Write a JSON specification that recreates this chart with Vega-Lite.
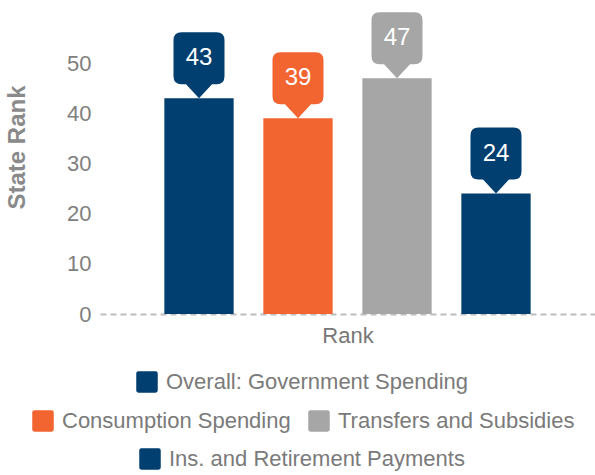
{
  "$schema": "https://vega.github.io/schema/vega-lite/v6.json",
  "autosize": {"type": "none"},
  "padding": {"left": 100, "top": 13, "right": 0, "bottom": 161},
  "width": 495,
  "height": 301,
  "config": {
    "font": "Liberation Sans",
    "view": {"stroke": null}
  },
  "data": {
    "values": [
      {"category": "Overall: Government Spending", "rank": 43},
      {"category": "Consumption Spending", "rank": 39},
      {"category": "Transfers and Subsidies", "rank": 47},
      {"category": "Ins. and Retirement Payments", "rank": 24}
    ]
  },
  "encoding": {
    "x": {
      "field": "category",
      "type": "nominal",
      "scale": {
        "domain": ["Overall: Government Spending", "Consumption Spending", "Transfers and Subsidies", "Ins. and Retirement Payments"],
        "paddingInner": 0.3,
        "paddingOuter": 0.65
      },
      "axis": {
        "title": "Rank",
        "labels": false,
        "ticks": false,
        "domainDash": [6, 4],
        "domainColor": "#bdbdbd",
        "domainWidth": 2,
        "titleFontSize": 22,
        "titleFontWeight": "normal",
        "titleColor": "#777777",
        "titlePadding": 11
      }
    },
    "y": {
      "field": "rank",
      "type": "quantitative",
      "scale": {"domain": [0, 60], "nice": false},
      "axis": {
        "title": "State Rank",
        "values": [0, 10, 20, 30, 40, 50],
        "grid": false,
        "domain": false,
        "ticks": false,
        "labelFontSize": 22,
        "labelColor": "#808080",
        "labelPadding": 9,
        "titleFontSize": 24,
        "titleFontWeight": "bold",
        "titleColor": "#8a8a8a",
        "titleX": -71,
        "titleY": 134
      }
    }
  },
  "layer": [
    {
      "transform": [{"filter": "datum.category === 'Overall: Government Spending'"}],
      "mark": {"type": "bar"},
      "encoding": {
        "fill": {
          "field": "category",
          "type": "nominal",
          "scale": {"domain": ["Overall: Government Spending"], "range": ["#003f6f"]},
          "legend": {
            "title": null,
            "orient": "none",
            "legendX": 36,
            "legendY": 358,
            "padding": 0,
            "symbolType": "M -0.8 -1 H 0.8 Q 1 -1 1 -0.8 V 0.8 Q 1 1 0.8 1 H -0.8 Q -1 1 -1 0.8 V -0.8 Q -1 -1 -0.8 -1 Z",
            "symbolSize": 462,
            "symbolStrokeWidth": 0,
            "labelFontSize": 22,
            "labelColor": "#7a7a7a",
            "labelOffset": 8,
            "labelLimit": 400
          }
        }
      }
    },
    {
      "transform": [{"filter": "datum.category === 'Consumption Spending' || datum.category === 'Transfers and Subsidies'"}],
      "mark": {"type": "bar"},
      "encoding": {
        "fill": {
          "field": "category",
          "type": "nominal",
          "scale": {"domain": ["Consumption Spending", "Transfers and Subsidies"], "range": ["#f26430", "#a6a6a6"]},
          "legend": {
            "title": null,
            "orient": "none",
            "direction": "horizontal",
            "legendX": -68,
            "legendY": 397,
            "padding": 0,
            "columnPadding": 17,
            "symbolType": "M -0.8 -1 H 0.8 Q 1 -1 1 -0.8 V 0.8 Q 1 1 0.8 1 H -0.8 Q -1 1 -1 0.8 V -0.8 Q -1 -1 -0.8 -1 Z",
            "symbolSize": 462,
            "symbolStrokeWidth": 0,
            "labelFontSize": 22,
            "labelColor": "#7a7a7a",
            "labelOffset": 8,
            "labelLimit": 400
          }
        }
      }
    },
    {
      "transform": [{"filter": "datum.category === 'Ins. and Retirement Payments'"}],
      "mark": {"type": "bar"},
      "encoding": {
        "fill": {
          "field": "category",
          "type": "nominal",
          "scale": {"domain": ["Ins. and Retirement Payments"], "range": ["#003f6f"]},
          "legend": {
            "title": null,
            "orient": "none",
            "legendX": 39,
            "legendY": 435,
            "padding": 0,
            "symbolType": "M -0.8 -1 H 0.8 Q 1 -1 1 -0.8 V 0.8 Q 1 1 0.8 1 H -0.8 Q -1 1 -1 0.8 V -0.8 Q -1 -1 -0.8 -1 Z",
            "symbolSize": 462,
            "symbolStrokeWidth": 0,
            "labelFontSize": 22,
            "labelColor": "#7a7a7a",
            "labelOffset": 8,
            "labelLimit": 400
          }
        }
      }
    },
    {
      "mark": {
        "type": "point",
        "filled": true,
        "opacity": 1,
        "strokeWidth": 0,
        "size": 4,
        "shape": "M -17.5 -66 H 17.5 Q 25.5 -66 25.5 -58 V -22 Q 25.5 -14 17.5 -14 H 13 L 0 0 L -13 -14 H -17.5 Q -25.5 -14 -25.5 -22 V -58 Q -25.5 -66 -17.5 -66 Z"
      },
      "encoding": {
        "color": {
          "field": "category",
          "type": "nominal",
          "scale": {
            "domain": ["Overall: Government Spending", "Consumption Spending", "Transfers and Subsidies", "Ins. and Retirement Payments"],
            "range": ["#003f6f", "#f26430", "#a6a6a6", "#003f6f"]
          },
          "legend": null
        }
      }
    },
    {
      "mark": {
        "type": "text",
        "color": "white",
        "fontSize": 24,
        "dy": -40,
        "baseline": "middle",
        "align": "center"
      },
      "encoding": {
        "text": {"field": "rank", "type": "quantitative"}
      }
    }
  ],
  "resolve": {
    "scale": {"fill": "independent", "color": "independent"},
    "legend": {"fill": "independent"}
  }
}
